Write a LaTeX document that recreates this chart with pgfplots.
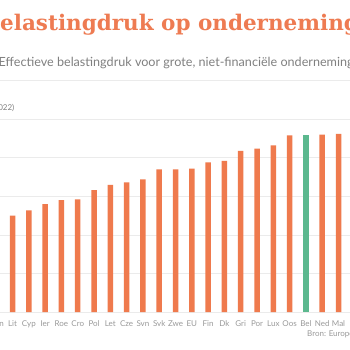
\documentclass[border=0pt]{standalone}
\usepackage{pgfplots}
\pgfplotsset{compat=1.18}
\usepackage{fontspec}
\setmainfont{Lato}
\newfontfamily\titlefont{DejaVu Serif}
\definecolor{barorange}{HTML}{EF7A4D}
\definecolor{bargreen}{HTML}{5BB88E}
\definecolor{titleorange}{HTML}{EE7B52}
\definecolor{subgray}{HTML}{808080}
\definecolor{labgray}{HTML}{9A9A9A}
\definecolor{gridgray}{HTML}{EBEBEB}
\begin{document}
\begin{tikzpicture}[x=1pt,y=1pt]
\useasboundingbox (0,0) rectangle (350,350);
\fill[white] (0,0) rectangle (350,350);
\node[anchor=base west, inner sep=0, text=titleorange, font=\titlefont\bfseries\fontsize{21.5}{22}\selectfont] at (0,319) {\llap{B}elastingdruk op ondernemingen};
\node[anchor=base west, inner sep=0, text=subgray, font=\fontsize{12.6}{13}\selectfont] at (-1.5,283) {Effectieve belastingdruk voor grote, niet-financiële ondernemingen};
\draw[gridgray, line width=0.8pt] (-5,270) -- (355,270);
\node[anchor=base east, inner sep=0, text=subgray, font=\fontsize{8}{8}\selectfont] at (14.5,239) {Percentage (2022)};
\node[anchor=base west, inner sep=0, text=labgray, font=\fontsize{8}{8}\selectfont] at (307,13) {Bron: Europese Commissie};
\begin{axis}[
  at={(-2.3,49)}, anchor=origin,
  scale only axis, width=370pt, height=193pt,
  xmin=-0.472, xmax=22.23, ymin=0, ymax=25,
  ybar, bar width=5.5pt, bar shift=0pt,
  axis line style={draw=none},
  ytick={0,5,...,25}, yticklabels={},
  ymajorgrids, grid style={gridgray, line width=0.8pt},
  xtick={0,...,21},
  xticklabels={Hon,Lit,Cyp,Ier,Roe,Cro,Pol,Let,Cze,Svn,Svk,Zwe,EU,Fin,Dk,Gri,Por,Lux,Oos,Bel,Ned,Mal},
  major tick length=0pt,
  xticklabel style={text=labgray, font=\fontsize{8}{8}\selectfont, yshift=-5pt},
]
\addplot[fill=barorange, draw=none] coordinates {
(0,11.0) (1,12.5) (2,13.2) (3,14.0) (4,14.5) (5,14.6) (6,15.8) (7,16.5) (8,16.8) (9,17.2) (10,18.5)
(11,18.5) (12,18.6) (13,19.4) (14,19.6) (15,20.9) (16,21.2) (17,21.6) (18,22.9) (20,23.0) (21,23.1)};
\addplot[fill=bargreen, draw=none] coordinates {(19,22.9)};
\end{axis}
\end{tikzpicture}
\end{document}
